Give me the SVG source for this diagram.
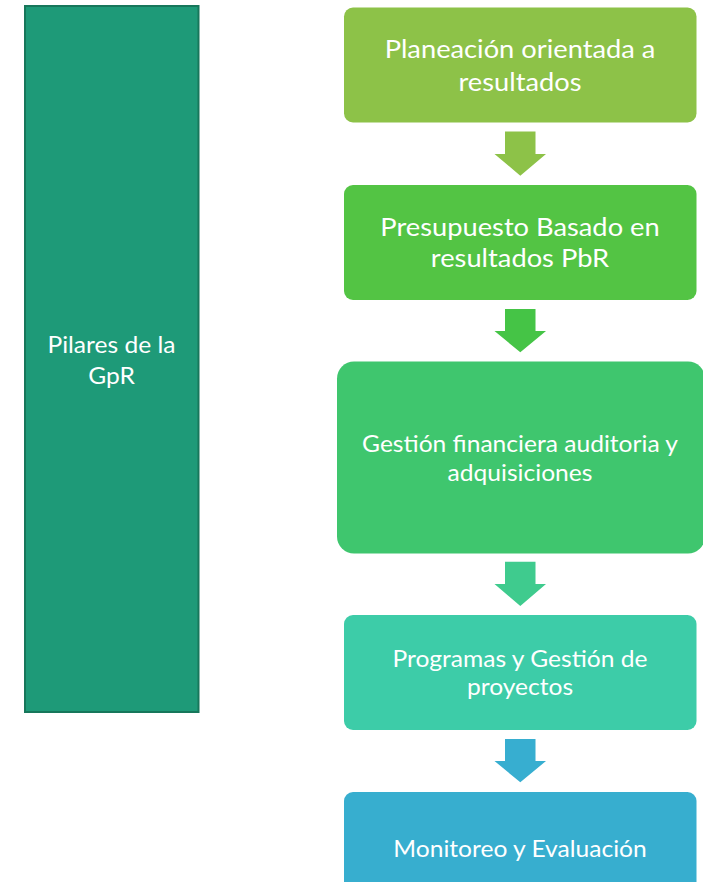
<svg xmlns="http://www.w3.org/2000/svg" width="703" height="882" viewBox="0 0 703 882">
<style>
text{font-family:Lato,"Liberation Sans",sans-serif;fill:#ffffff;text-anchor:middle;font-weight:400}
.big{font-size:25.5px}
.mid{font-size:23px}
</style>
<rect width="703" height="882" fill="#ffffff"/>
<g id="pilares">
<rect x="25" y="6" width="173.5" height="706" fill="#1e9a78" stroke="#17775b" stroke-width="2"/>
<text class="mid" transform="translate(111.5,353) scale(1.07,1)">Pilares de la</text>
<text class="mid" transform="translate(111.5,384) scale(1.07,1)">GpR</text>
</g>
<g id="planeacion">
<rect x="344" y="7.5" width="352.5" height="115" rx="9" fill="#8dc248"/>
<text class="big" transform="translate(520,58.3) scale(1.07,1)">Planeación orientada a</text>
<text class="big" transform="translate(520,90.7) scale(1.07,1)">resultados</text>
</g>
<g id="presupuesto">
<rect x="344" y="185" width="352.5" height="115" rx="9" fill="#53c444"/>
<text class="big" transform="translate(520,235.7) scale(1.07,1)">Presupuesto Basado en</text>
<text class="big" transform="translate(520,266.7) scale(1.07,1)">resultados PbR</text>
</g>
<g id="gestion">
<rect x="337" y="361.5" width="368" height="192" rx="17" fill="#3fc66e"/>
<text class="mid" transform="translate(520,451.7) scale(1.07,1)">Gestión financiera auditoria y</text>
<text class="mid" transform="translate(520,481) scale(1.07,1)">adquisiciones</text>
</g>
<g id="programas">
<rect x="344" y="615" width="352.5" height="115" rx="9" fill="#3dcca8"/>
<text class="mid" transform="translate(520,666.7) scale(1.07,1)">Programas y Gestión de</text>
<text class="mid" transform="translate(520,695) scale(1.07,1)">proyectos</text>
</g>
<g id="monitoreo">
<rect x="344" y="792" width="352.5" height="110" rx="9" fill="#37aecf"/>
<text class="mid" transform="translate(520,856.7) scale(1.07,1)">Monitoreo y Evaluación</text>
</g>
<g id="connectors">
<polygon points="505,131.5 535.5,131.5 535.5,154 546,154 520.3,175.7 494.5,154 505,154" fill="#8dc248"/>
<polygon points="505,309 535.5,309 535.5,331 546,331 520.3,352.3 494.5,331 505,331" fill="#45c446"/>
<polygon points="505,561.7 535.5,561.7 535.5,584 546,584 520.3,606 494.5,584 505,584" fill="#3fcb8e"/>
<polygon points="505,739 535.5,739 535.5,761 546,761 520.3,782.3 494.5,761 505,761" fill="#37aed0"/>
</g>
</svg>
